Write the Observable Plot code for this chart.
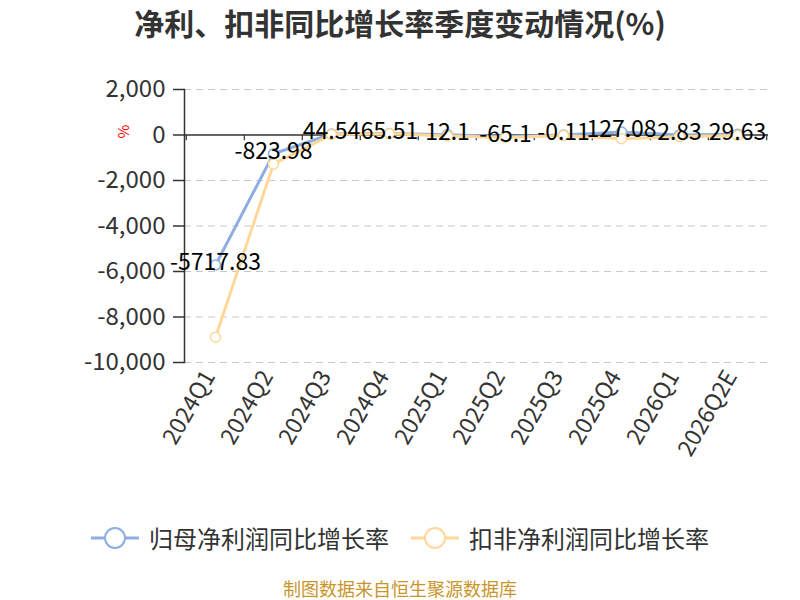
<!DOCTYPE html>
<html>
<head>
<meta charset="utf-8">
<script src="https://cdn.jsdelivr.net/npm/d3@7"></script>
<script src="https://cdn.jsdelivr.net/npm/@observablehq/plot@0.6"></script>
<style>
  body { margin: 0; width: 800px; height: 600px; position: relative; background: #fff;
         font-family: "Noto Sans CJK SC", "Noto Sans", sans-serif; overflow: hidden; }
  #title { height: 45px; line-height: 45px; text-align: center; font-size: 30px; font-weight: bold; color: #333; }
  #legend { position: absolute; top: 520px; left: 0; width: 800px; display: flex; justify-content: center; align-items: center; font-size: 24px; color: #333; }
  .item { display: flex; align-items: center; margin: 0 11px; }
  .item svg { margin-right: 10px; }
  #footer { position: absolute; top: 577px; left: 0; width: 800px; height: 23px; line-height: 23px; text-align: center; font-size: 18px; color: #c9952a; }
</style>
</head>
<body>
<div id="title">净利、扣非同比增长率季度变动情况(%)</div>
<div id="chart"></div>
<div id="legend"></div>
<div id="footer">制图数据来自恒生聚源数据库</div>
<script>
const quarters = ["2024Q1","2024Q2","2024Q3","2024Q4","2025Q1","2025Q2","2025Q3","2025Q4","2026Q1","2026Q2E"];
const netProfitYoY = [-5717.83, -823.98, 44.54, 65.51, 12.1, -65.1, -0.11, 127.08, 2.83, 29.63];
const deductedYoY = [-8890, -1280, 20, 60, -40, -110, -20, -160, -80, -20];
const yTicks = [2000, 0, -2000, -4000, -6000, -8000, -10000];
const seriesNames = ["归母净利润同比增长率", "扣非净利润同比增长率"];
const seriesColors = ["#8eaee0", "#ffd899"];

const netData = quarters.map((q, i) => ({q, v: netProfitYoY[i]}));
const dedData = quarters.map((q, i) => ({q, v: deductedYoY[i]}));
const step = (800 - 184 - 32) / quarters.length;

const chart = Plot.plot({
  width: 800,
  height: 437,
  marginLeft: 184,
  marginRight: 32,
  marginTop: 44,
  marginBottom: 120,
  style: {fontFamily: "'Noto Sans CJK SC', 'Noto Sans', sans-serif", background: "transparent"},
  x: {type: "point", domain: quarters, padding: 0.5},
  y: {domain: [-10000, 2000]},
  marks: [
    Plot.gridY(yTicks.filter(t => t !== 0), {stroke: "#c8c8c8", strokeOpacity: 1, strokeDasharray: "7,5", strokeWidth: 1.2}),
    Plot.axisY({ticks: yTicks, tickSize: 11, tickPadding: 8, tickFormat: d => d.toLocaleString("en-US"),
                fontSize: 24, color: "#333", strokeWidth: 1.5, label: null}),
    Plot.frame({anchor: "left", stroke: "#333", strokeWidth: 1.5}),
    Plot.ruleY([0], {stroke: "#333", strokeWidth: 1.5}),
    Plot.ruleX(quarters, {x: d => d, y1: 0, y2: -250, dx: -step / 2, stroke: "#333", strokeWidth: 1.2}),
    Plot.ruleX([quarters[quarters.length - 1]], {x: d => d, y1: 0, y2: -250, dx: step / 2, stroke: "#333", strokeWidth: 1.2}),
    Plot.axisX({tickSize: 0, tickPadding: 10, tickRotate: -60, fontSize: 23, color: "#333", label: null, dx: -6}),
    Plot.text(["%"], {frameAnchor: "top-left", dx: -66, dy: 49, rotate: -90, fill: "red", fontSize: 15}),
    Plot.line(netData, {x: "q", y: "v", stroke: seriesColors[0], strokeWidth: 3}),
    Plot.dot(netData, {x: "q", y: "v", r: 5, fill: "white", stroke: seriesColors[0], strokeWidth: 1.5}),
    Plot.line(dedData, {x: "q", y: "v", stroke: seriesColors[1], strokeWidth: 3}),
    Plot.dot(dedData, {x: "q", y: "v", r: 5, fill: "white", stroke: seriesColors[1], strokeWidth: 1.5}),
    Plot.text(netData, {x: "q", y: "v", text: d => String(d.v), fontSize: 23, fill: "#000", dy: -2})
  ]
});
document.getElementById("chart").appendChild(chart);

const legend = document.getElementById("legend");
seriesNames.forEach((name, i) => {
  const item = document.createElement("div");
  item.className = "item";
  item.innerHTML = `<svg width="48" height="26"><line x1="0" y1="13" x2="48" y2="13" stroke="${seriesColors[i]}" stroke-width="3"/><circle cx="24" cy="13" r="10" fill="white" stroke="${seriesColors[i]}" stroke-width="2"/></svg><span>${name}</span>`;
  legend.appendChild(item);
});
</script>
</body>
</html>
